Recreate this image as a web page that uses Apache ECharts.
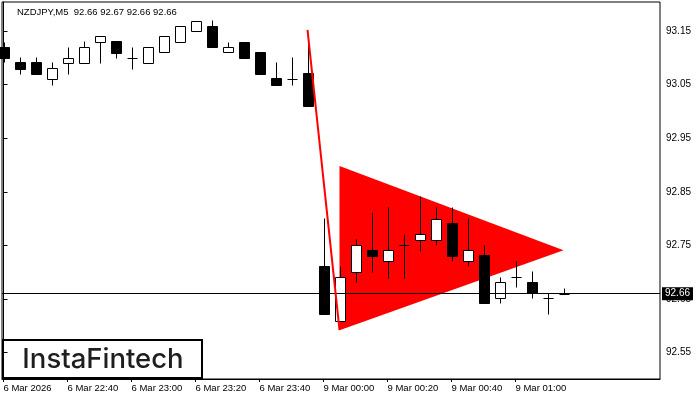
<!DOCTYPE html>
<html>
<head>
<meta charset="utf-8">
<script src="https://cdn.jsdelivr.net/npm/echarts@6/dist/echarts.min.js"></script>
<style>html,body{margin:0;padding:0;background:#fff}#c{width:700px;height:400px}</style>
</head>
<body>
<div id="c"></div>
<script>
// ---- data ----
const tickIndex = [0, 4, 8, 12, 16, 20, 24, 28, 32];
const tickLabels = ['6 Mar 2026', '6 Mar 22:40', '6 Mar 23:00', '6 Mar 23:20', '6 Mar 23:40',
  '9 Mar 00:00', '9 Mar 00:20', '9 Mar 00:40', '9 Mar 01:00'];
const opens  = [93.121, 93.092, 93.092, 93.061, 93.091, 93.091, 93.130, 93.131, 93.100, 93.091,
  93.110, 93.130, 93.150, 93.160, 93.110, 93.130, 93.110, 93.062, 93.061, 93.072,
  92.712, 92.610, 92.701, 92.742, 92.721, 92.750, 92.761, 92.761, 92.791, 92.721,
  92.732, 92.652, 92.692, 92.682, 92.652, 92.660];
const closes = [93.099, 93.079, 93.070, 93.080, 93.100, 93.121, 93.140, 93.109, 93.100, 93.121,
  93.140, 93.160, 93.169, 93.120, 93.120, 93.100, 93.070, 93.049, 93.061, 93.010,
  92.622, 92.691, 92.750, 92.731, 92.742, 92.750, 92.771, 92.800, 92.731, 92.742,
  92.643, 92.682, 92.692, 92.661, 92.652, 92.660];
const lows   = [93.092, 93.070, 93.070, 93.049, 93.070, 93.091, 93.091, 93.100, 93.079, 93.091,
  93.110, 93.130, 93.150, 93.120, 93.110, 93.100, 93.070, 93.049, 93.049, 93.010,
  92.622, 92.610, 92.681, 92.701, 92.690, 92.690, 92.740, 92.750, 92.721, 92.711,
  92.643, 92.643, 92.672, 92.652, 92.622, 92.660];
const highs  = [93.129, 93.101, 93.101, 93.092, 93.121, 93.131, 93.140, 93.131, 93.121, 93.121,
  93.140, 93.160, 93.169, 93.170, 93.130, 93.130, 93.110, 93.092, 93.101, 93.134,
  92.802, 92.712, 92.762, 92.813, 92.821, 92.771, 92.842, 92.821, 92.821, 92.802,
  92.751, 92.692, 92.721, 92.702, 92.662, 92.670];
const yTicks = [92.55, 92.65, 92.75, 92.85, 92.95, 93.05, 93.15];
const pole = [[19, 93.152], [21, 92.592]];
const triangle = [[21, 92.898], [21, 92.592], [35, 92.741]];
const lastPrice = 92.66;
const headerText = 'NZDJPY,M5  92.66 92.67 92.66 92.66';

// ---- build ----
const candleData = opens.map((o, i) => [i, o, closes[i], lows[i], highs[i]]);
const FONT = 'Liberation Sans';

const chart = echarts.init(document.getElementById('c'), null, {renderer: 'canvas'});
chart.setOption({
  animation: false,
  backgroundColor: '#fff',
  title: {
    text: headerText, left: 17, top: 7, padding: 0,
    textStyle: {fontFamily: FONT, fontSize: 9.5, fontWeight: 'normal', color: '#000'}
  },
  grid: {left: 2, right: 40, top: 2, bottom: 21, show: true, borderColor: '#000', borderWidth: 1, backgroundColor: '#fff'},
  xAxis: {
    type: 'value', min: -0.094, max: 41.03,
    axisLine: {show: true, onZero: false, lineStyle: {color: '#000', width: 1}},
    axisTick: {show: true, customValues: tickIndex, length: 3, lineStyle: {color: '#000'}},
    axisLabel: {
      customValues: tickIndex, align: 'left', color: '#000', fontFamily: FONT, fontSize: 9.5, margin: 4,
      formatter: v => tickLabels[tickIndex.indexOf(v)]
    },
    splitLine: {show: false}
  },
  yAxis: {
    type: 'value', position: 'right', min: 92.501, max: 93.204,
    axisLine: {show: true, lineStyle: {color: '#000', width: 1}},
    axisTick: {show: true, customValues: yTicks, length: 4, lineStyle: {color: '#000'}},
    axisLabel: {customValues: yTicks, color: '#000', fontFamily: FONT, fontSize: 10, margin: 6,
      formatter: v => v.toFixed(2)},
    splitLine: {show: false}
  },
  graphic: [{
    type: 'group', left: 2, top: 339, z: 100,
    children: [
      {type: 'rect', shape: {x: 1, y: 1, width: 199, height: 38}, style: {fill: '#fff', stroke: '#000', lineWidth: 2}},
      {type: 'text', x: 101, y: 21, style: {text: 'InstaFintech', fill: '#1e1e1e', font: '500 27.5px Inter', align: 'center', verticalAlign: 'middle'}}
    ]
  }],
  series: [
    {
      type: 'custom', z: 1, silent: true,
      data: [[triangle[0][0], triangle[0][1], triangle[1][0], triangle[1][1], triangle[2][0], triangle[2][1]]],
      renderItem: (params, api) => {
        const pts = [0, 1, 2].map(k => api.coord([api.value(2 * k), api.value(2 * k + 1)]));
        return {type: 'polygon', shape: {points: pts}, style: {fill: '#ff0000'}};
      }
    },
    {
      type: 'custom', z: 3, silent: true,
      data: candleData,
      renderItem: (params, api) => {
        const x = api.value(0), o = api.value(1), c = api.value(2), l = api.value(3), h = api.value(4);
        const po = api.coord([x, o]), pc = api.coord([x, c]), pl = api.coord([x, l]), ph = api.coord([x, h]);
        const cx = Math.round(po[0]) + 0.5;
        const top = Math.round(Math.min(po[1], pc[1])) + 0.5;
        const bot = Math.round(Math.max(po[1], pc[1])) + 0.5;
        const bull = c > o;
        const children = [{
          type: 'line', shape: {x1: cx, y1: Math.round(ph[1]) + 0.5, x2: cx, y2: Math.round(pl[1]) + 0.5},
          style: {stroke: '#000', lineWidth: 1}
        }];
        if (bot - top < 1) {
          children.push({type: 'line', shape: {x1: cx - 5, y1: top, x2: cx + 5, y2: top}, style: {stroke: '#000', lineWidth: 1}});
        } else {
          children.push({type: 'rect', shape: {x: cx - 5, y: top, width: 10, height: bot - top},
            style: {fill: bull ? '#fff' : '#000', stroke: '#000', lineWidth: 1}});
        }
        return {type: 'group', children};
      },
      markLine: {
        silent: true, symbol: ['none', 'none'], animation: false,
        lineStyle: {color: '#000', width: 1, type: 'solid'},
        label: {show: true, position: 'end', distance: 2, formatter: lastPrice.toFixed(2),
          backgroundColor: '#000', color: '#fff', fontFamily: FONT, fontSize: 10, padding: [2, 3, 1, 3]},
        data: [{yAxis: lastPrice}]
      }
    },
    {
      type: 'line', z: 5, silent: true, data: pole, symbol: 'none',
      lineStyle: {color: '#ff0000', width: 2}
    }
  ]
});
</script>
</body>
</html>
